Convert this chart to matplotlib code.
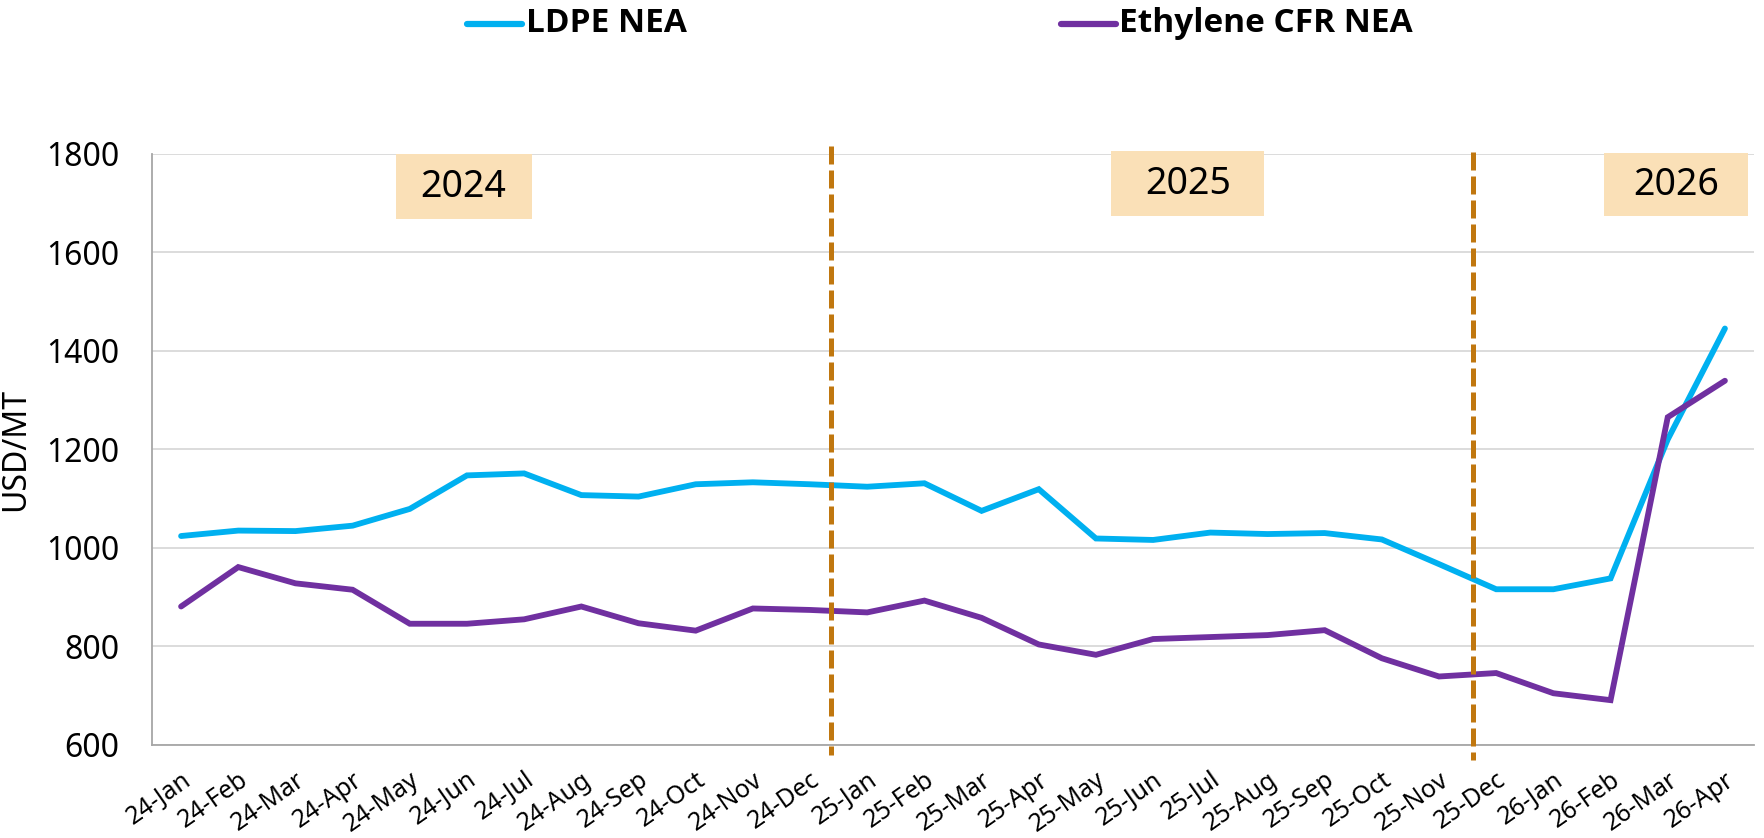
import matplotlib
matplotlib.use("Agg")
import matplotlib.pyplot as plt
from matplotlib.lines import Line2D
from matplotlib.patches import Rectangle

plt.rcParams['font.family'] = ['Noto Sans', 'DejaVu Sans']

# ---- data ----
months = ["24-Jan", "24-Feb", "24-Mar", "24-Apr", "24-May", "24-Jun", "24-Jul", "24-Aug",
          "24-Sep", "24-Oct", "24-Nov", "24-Dec", "25-Jan", "25-Feb", "25-Mar", "25-Apr",
          "25-May", "25-Jun", "25-Jul", "25-Aug", "25-Sep", "25-Oct", "25-Nov", "25-Dec",
          "26-Jan", "26-Feb", "26-Mar", "26-Apr"]
ldpe_nea = [1024, 1035, 1034, 1045, 1079, 1147, 1151, 1107, 1104, 1129, 1133, 1129,
            1124, 1131, 1075, 1119, 1019, 1016, 1031, 1028, 1030, 1017, 967, 916,
            916, 938, 1220, 1445]
ethylene_cfr_nea = [881, 961, 928, 915, 846, 846, 855, 881, 847, 832, 877, 874,
                    869, 893, 858, 804, 783, 815, 819, 823, 833, 776, 739, 746,
                    705, 691, 1265, 1339]
series_names = ["LDPE NEA", "Ethylene CFR NEA"]
year_labels = ["2024", "2025", "2026"]
y_ticks = [600, 800, 1000, 1200, 1400, 1600, 1800]

# ---- styling / layout ----
c_ldpe = '#00B0F0'
c_eth = '#7030A0'
c_div = '#C0770F'
c_box = '#FAE0B7'

fig = plt.figure(figsize=(17.64, 8.38), dpi=100)
ax = fig.add_axes([0.08645, 0.11098, 0.9076, 0.7058])

x = list(range(len(months)))
ax.plot(x, ldpe_nea, color=c_ldpe, lw=4.2, solid_joinstyle='miter', solid_capstyle='round', zorder=4)
ax.plot(x, ethylene_cfr_nea, color=c_eth, lw=4.2, solid_joinstyle='miter', solid_capstyle='round', zorder=5)

ax.set_xlim(-0.5, len(months) - 0.5)
ax.set_ylim(600, 1800)
ax.set_yticks(y_ticks)
ax.set_yticklabels([str(v) for v in y_ticks], fontsize=23)
ax.set_xticks(x)
ax.set_xticklabels(months, rotation=35, ha='right', va='top', rotation_mode='anchor', fontsize=18)
ax.tick_params(axis='x', length=0, pad=16)
ax.tick_params(axis='y', length=0, pad=24)
ax.grid(axis='y', color='#D9D9D9', lw=1.3, zorder=0)
ax.set_axisbelow(True)
for s in ['top', 'right']:
    ax.spines[s].set_visible(False)
for s in ['left', 'bottom']:
    ax.spines[s].set_color('#A6A6A6')
    ax.spines[s].set_linewidth(1.3)
ax.set_ylabel("USD/MT", fontsize=23, labelpad=10)

# year dividers (dashed vertical lines)
dividers = [(11.37, 1815, 580), (22.59, 1804, 570)]
for xd, y0, y1 in dividers:
    ln, = ax.plot([xd, xd], [y0, y1], color=c_div, lw=3.6, clip_on=False, zorder=6)
    ln.set_dashes((3.6, 1.2))
    ln.set_dash_capstyle('butt')

# year boxes: (x_left, x_right, y_bottom, y_top)
boxes = [(3.75, 6.13, 1667, 1799), (16.27, 18.94, 1673, 1805), (24.88, 27.40, 1673, 1801)]
for (x0, x1, yb, yt), lab in zip(boxes, year_labels):
    ax.add_patch(Rectangle((x0, yb), x1 - x0, yt - yb, facecolor=c_box, edgecolor='none',
                           clip_on=False, zorder=3))
    ax.text((x0 + x1) / 2, (yb + yt) / 2, lab, fontsize=27, ha='center', va='center',
            zorder=7)

# legend (manual, top)
leg_y = 1 - 24 / 838
for (lx0, lx1, tx), name, col in zip([(467, 522, 526), (1061, 1116, 1119)], series_names,
                                      [c_ldpe, c_eth]):
    fig.add_artist(Line2D([lx0 / 1764, lx1 / 1764], [leg_y, leg_y], color=col, lw=4.5,
                          solid_capstyle='round', transform=fig.transFigure))
    fig.text(tx / 1764, leg_y, name, fontsize=24, fontweight='bold', ha='left', va='center',
             family=['Open Sans', 'Lato', 'DejaVu Sans'])

fig.savefig("out.png", dpi=100)
